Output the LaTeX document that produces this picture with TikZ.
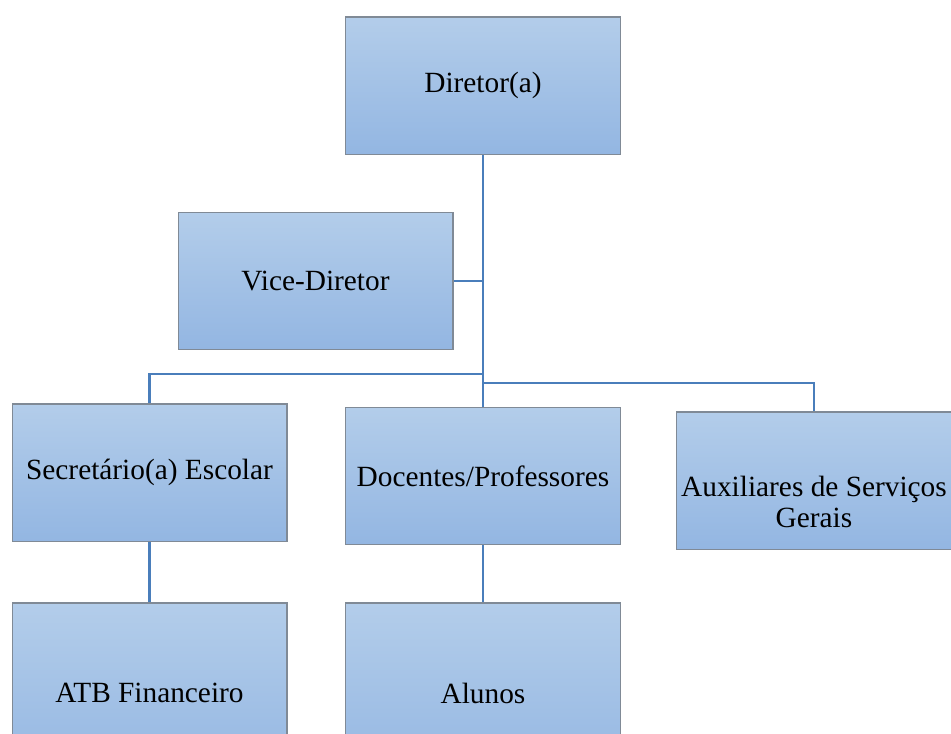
\documentclass[tikz,border=0pt]{standalone}
\usepackage{fontspec}
\setmainfont{Liberation Serif}
\usetikzlibrary{positioning,calc}
\definecolor{boxtop}{HTML}{B3CDEA}
\definecolor{boxbot}{HTML}{93B6E2}
\definecolor{boxline}{HTML}{808A96}
\definecolor{linkblue}{HTML}{4A7EBB}
\tikzset{
  orgbox/.style={draw=boxline, line width=1pt, top color=boxtop, bottom color=boxbot,
    minimum width=206pt, minimum height=103pt, inner sep=0pt, align=center,
    font=\fontsize{22}{23}\selectfont},
  orglink/.style={draw=linkblue, line width=2pt}
}

\begin{document}
\begin{tikzpicture}[x=0.75pt,y=-0.75pt]
\clip (0,0) rectangle (951,733);
\node[orgbox] (dir) at (483,85.5) {Diretor(a)};
\node[orgbox] (vice) at (315.5,281) {Vice-Diretor};
\node[orgbox] (sec) at (149.5,472.5) {Secretário(a) Escolar};
\node[orgbox] (doc) at (483,476) {Docentes/Professores};
\node[orgbox, label={[yshift=-16pt, align=center, font=\fontsize{22}{23}\selectfont]center:Auxiliares de Serviços\\Gerais}] (aux) at (814,480.5) {};
% lower row runs past the page edge
\node[orgbox, minimum height=135pt] (atb) at (149.5,693) {ATB Financeiro};
\node[orgbox, minimum height=135pt] (alu) at (483,693) {Alunos};

\coordinate (jl) at (483,374);
\coordinate (jr) at (483,383);
\draw[orglink] (dir.south) -- (doc.north);
\draw[orglink] (vice.east) -- (vice.east -| dir.south);
\draw[orglink] (jl) -| (sec.north);
\draw[orglink] (jr) -| (aux.north);
\draw[orglink] (sec.south) -- (atb.north);
\draw[orglink] (doc.south) -- (alu.north);
\end{tikzpicture}
\end{document}
